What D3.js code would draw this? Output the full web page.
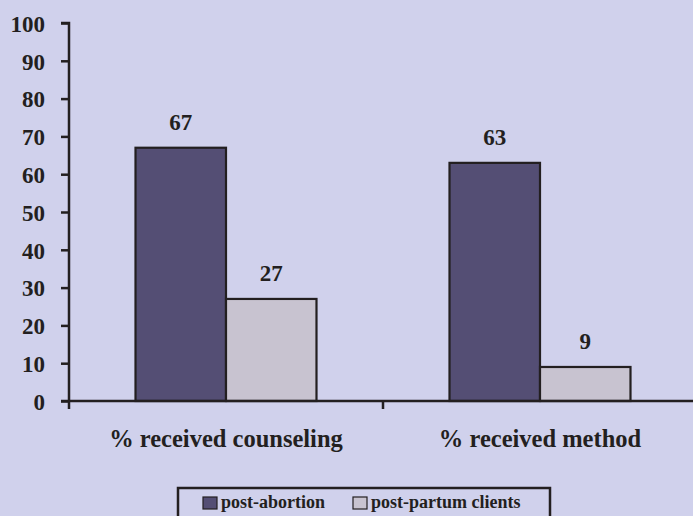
<!DOCTYPE html>
<html><head><meta charset="utf-8">
<script src="https://cdn.jsdelivr.net/npm/d3@7"></script>
<style>
html,body{margin:0;padding:0;background:#D0D1EC;}
svg{display:block;}
text{font-family:"Liberation Serif","Times New Roman",serif !important;font-weight:bold;fill:#231F20;}
</style></head><body>
<svg id="chart" width="693" height="516"></svg>
<script>
const categories = ["% received counseling", "% received method"];
const seriesNames = ["post-abortion", "post-partum clients"];
const postAbortion = [67, 63];
const postPartum = [27, 9];
const yTicks = [0,10,20,30,40,50,60,70,80,90,100];
const colors = ["#544E74", "#C8C3D0"];

const svg = d3.select("#chart");
const W = 693, H = 516;
svg.append("rect").attr("width", W).attr("height", H).attr("fill", "#D0D1EC");

const x0 = 69, x1 = 697, yBottom = 401, yTop = 23;
const x = d3.scaleBand().domain(categories).range([x0, x1]).paddingInner(0).paddingOuter(0);
const xs = d3.scaleBand().domain(seriesNames).range([0, x.bandwidth()]).paddingInner(0).paddingOuter(0.735);
const y = d3.scaleLinear().domain([0, 100]).range([yBottom, yTop]);

const data = categories.map((c, i) => ({cat: c, vals: [
  {s: seriesNames[0], v: postAbortion[i]},
  {s: seriesNames[1], v: postPartum[i]}
]}));

// bars
const g = svg.append("g");
const groups = g.selectAll("g.grp").data(data).join("g")
  .attr("transform", d => `translate(${x(d.cat)},0)`);
groups.selectAll("rect").data(d => d.vals).join("rect")
  .attr("x", d => xs(d.s))
  .attr("y", d => y(d.v))
  .attr("width", xs.bandwidth())
  .attr("height", d => y(0) - y(d.v))
  .attr("fill", (d, i) => colors[i])
  .attr("stroke", "#231F20").attr("stroke-width", 2.2);
groups.selectAll("text.val").data(d => d.vals).join("text")
  .attr("class", "val")
  .attr("x", d => xs(d.s) + xs.bandwidth() / 2)
  .attr("y", d => y(d.v) - 18)
  .attr("text-anchor", "middle")
  .style("font-size", "23px")
  .text(d => d.v);

// y axis
const yAxis = d3.axisLeft(y).tickValues(yTicks).tickSize(8).tickPadding(16).tickFormat(d3.format("d"));
const ya = svg.append("g").attr("transform", `translate(${x0},0)`).call(yAxis)
  .attr("font-family", null).attr("font-size", null);
ya.select(".domain").attr("stroke", "#231F20").attr("stroke-width", 2.5).attr("d", `M-8,${yTop}H0V${yBottom}`);
ya.selectAll(".tick line").attr("stroke", "#231F20").attr("stroke-width", 2.5);
ya.selectAll(".tick text").style("font-size", "23px").attr("fill", "#231F20").attr("dy", "0.36em");

// x axis
const xAxis = d3.axisBottom(x).tickSize(0).tickFormat("");
const xa = svg.append("g").attr("transform", `translate(0,${yBottom})`).call(xAxis);
xa.select(".domain").attr("stroke", "#231F20").attr("stroke-width", 2.5).attr("d", `M${x0 - 8},0H${x1}`);
xa.selectAll(".tick").remove();
const bounds = [x0, x0 + x.bandwidth(), x1];
xa.selectAll("line.bt").data(bounds).join("line").attr("class", "bt")
  .attr("x1", d => d).attr("x2", d => d).attr("y1", 0).attr("y2", 8)
  .attr("stroke", "#231F20").attr("stroke-width", 2.5);
svg.selectAll("text.cat").data(categories).join("text").attr("class", "cat")
  .attr("x", d => x(d) + x.bandwidth() / 2)
  .attr("y", 447)
  .attr("text-anchor", "middle")
  .style("font-size", "24.5px")
  .text(d => d);

// legend
const lg = svg.append("g");
lg.append("rect").attr("x", 178).attr("y", 488).attr("width", 372).attr("height", 40)
  .attr("fill", "none").attr("stroke", "#231F20").attr("stroke-width", 2.5);
const legPos = [203, 353];
seriesNames.forEach((s, i) => {
  lg.append("rect").attr("x", legPos[i]).attr("y", 497).attr("width", 14).attr("height", 12)
    .attr("fill", colors[i]).attr("stroke", "#231F20").attr("stroke-width", 1.2);
  lg.append("text").attr("x", legPos[i] + 18).attr("y", 508).style("font-size", "18px").text(s);
});
</script>
</body></html>
